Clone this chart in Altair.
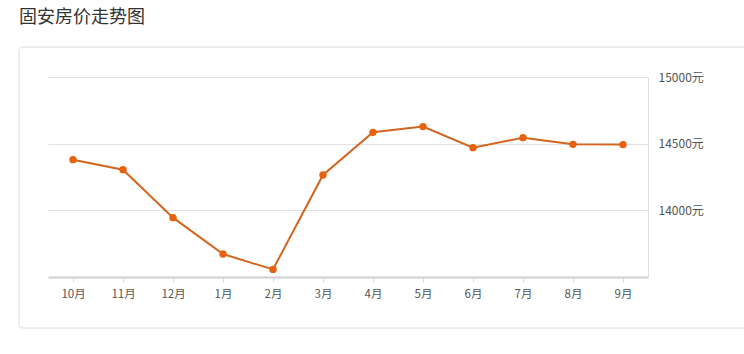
import altair as alt
import pandas as pd

title_text = "固安房价走势图"
months = ["10月", "11月", "12月", "1月", "2月", "3月", "4月", "5月", "6月", "7月", "8月", "9月"]
prices = [14380, 14305, 13945, 13672, 13557, 14265, 14585, 14628, 14470, 14545, 14495, 14493]
y_ticks = [14000, 14500, 15000]

FONT = "Noto Sans CJK SC"
df = pd.DataFrame({"month": months, "price": prices})

x_enc = alt.X("month:N", sort=months,
              scale=alt.Scale(type="point", padding=0.5),
              axis=alt.Axis(title=None, labelAngle=0, labelFont=FONT, labelFontSize=11.5,
                            labelColor="#555", tickColor="#ddd", tickSize=5, labelPadding=6,
                            domainColor="#d0d0d0", domainWidth=2, grid=False))
y_enc = alt.Y("price:Q",
              scale=alt.Scale(domain=[13500, 15000], nice=False, zero=False),
              axis=alt.Axis(title=None, orient="right", values=y_ticks,
                            labelExpr="datum.value + '元'", labelFont=FONT, labelFontSize=12,
                            labelColor="#555", ticks=False, labelPadding=10,
                            domainColor="#e0e0e0", gridColor="#e0e0e0", grid=True))

line = alt.Chart(df).mark_line(color="#d2651f", strokeWidth=2).encode(x=x_enc, y=y_enc)
pts = alt.Chart(df).mark_point(filled=True, color="#e8620e", size=55, opacity=1).encode(x=x_enc, y=y_enc)

box = alt.Chart(pd.DataFrame({"t": [title_text]})).mark_rect(
    fill=None, stroke="#dcdcdc", strokeWidth=1, cornerRadius=4
).encode(x=alt.value(-29), x2=alt.value(710), y=alt.value(-30), y2=alt.value(251))

title = alt.Chart(pd.DataFrame({"t": [title_text]})).mark_text(
    align="left", baseline="middle", font=FONT, fontSize=18, color="#333"
).encode(text="t:N", x=alt.value(-29), y=alt.value(-59))

chart = alt.layer(box, title, line, pts).properties(
    width=600, height=200,
    autosize=alt.AutoSizeParams(type="none"),
    padding={"left": 48, "top": 77, "right": 96, "bottom": 77},
    background="white",
).configure_view(stroke=None)

chart.save("out.html", embed_options={"renderer": "svg", "actions": False})
